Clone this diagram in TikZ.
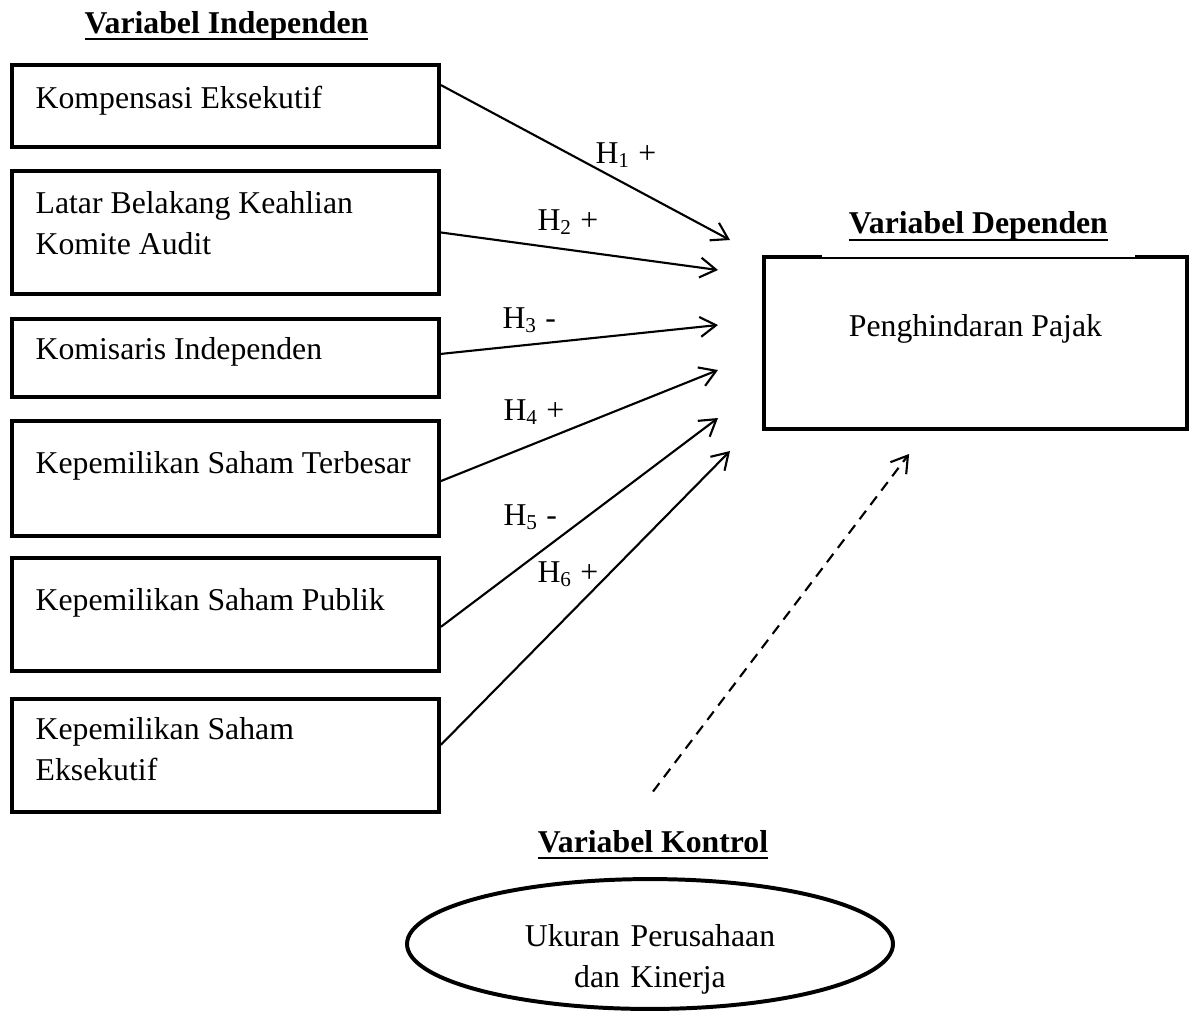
\documentclass[tikz,border=0pt]{standalone}
\usepackage{fontspec}
\setmainfont{Liberation Serif}
\usepackage{tikz}
\usetikzlibrary{shapes.geometric, arrows.meta, calc, positioning}
\tikzstyle{box} = [rectangle, line width=1.5pt, draw=black, anchor=north west, text width=143.5pt, inner xsep=8.95pt, inner ysep=0pt, align=flush left]
\tikzstyle{dep} = [rectangle, line width=1.5pt, draw=black, anchor=north west, minimum width=159.9pt, inner ysep=0pt, text height=30.2pt, text depth=34.8pt, align=center]
\tikzstyle{ctrl} = [ellipse, line width=1.5pt, draw=black, minimum width=183.7pt, minimum height=49.1pt, text width=100pt, align=center, text height=11pt, text depth=8.8pt]
\tikzstyle{hyp} = [anchor=base west, inner sep=0pt]
\tikzstyle{arrow} = [line width=0.8pt, -{Straight Barb[length=6pt, width=7.5pt]}]
\tikzstyle{dasharrow} = [arrow, dash pattern=on 4pt off 2.8pt]
\newcommand{\ulhead}[1]{\setbox0=\hbox{\bfseries #1}\rlap{\vrule height -1.8pt depth 2.7pt width \wd0}\box0}

\begin{document}
\begin{tikzpicture}[x=0.378pt, y=-0.378pt, font=\fontsize{12pt}{15.3pt}\selectfont]
		\useasboundingbox (0,0) rectangle (1192,1011);
		\node (HInd) [anchor=base] at (226.5,33) {\ulhead{Variabel Independen}};
		\node (Kompensasi) [box, text height=16.6pt, text depth=14.4pt] at (10,63) {Kompensasi Eksekutif};
		\node (Komite) [box, below = 7.56pt of Kompensasi.south west, anchor=north west, text height=16.25pt, text depth=30.25pt] {Latar Belakang Keahlian\\Komite Audit};
		\node (Komisaris) [box, below = 7.9pt of Komite.south west, anchor=north west, text height=15.5pt, text depth=14pt] {Komisaris Independen};
		\node (Terbesar) [box, below = 7.56pt of Komisaris.south west, anchor=north west, text height=20pt, text depth=23.5pt] {Kepemilikan Saham Terbesar};
		\node (Publik) [box, below = 6.8pt of Terbesar.south west, anchor=north west, text height=20pt, text depth=22.7pt] {Kepemilikan Saham Publik};
		\node (Eksekutif) [box, below = 9.1pt of Publik.south west, anchor=north west, text height=15.5pt, text depth=27.2pt] {Kepemilikan Saham\\Eksekutif};
		\node (Pajak) [dep] at (762,255) {Penghindaran Pajak};
		\node (HDep) [anchor=south, fill=white, minimum width=118.3pt, inner ysep=6pt] at ([xshift=1.1pt, yshift=-0.9pt]Pajak.north) {\ulhead{Variabel Dependen}};
		\node (HKon) [anchor=base] at (653,852) {\ulhead{Variabel Kontrol}};
		\node (Ukuran) [ctrl] at (650,944) {Ukuran Perusahaan\\dan Kinerja};
		\coordinate (T1) at (730,240);
		\coordinate (T2) at (718,270);
		\coordinate (T3) at (718,325);
		\coordinate (T4) at (718,370);
		\coordinate (T5) at (718,418);
		\coordinate (T6) at (730,451);
		\draw [arrow] ([yshift=7.9pt]Kompensasi.east) -- (T1);
		\draw [arrow] (Komite.east) -- (T2);
		\draw [arrow] ([yshift=1.5pt]Komisaris.east) -- (T3);
		\draw [arrow] ([yshift=-1pt]Terbesar.east) -- (T4);
		\draw [arrow] ([yshift=-4.7pt]Publik.east) -- (T5);
		\draw [arrow] ([yshift=4pt]Eksekutif.east) -- (T6);
		\draw [dasharrow] ([yshift=11pt]HKon.north) -- ([xshift=-25.1pt, yshift=-8.7pt]Pajak.south);
		\node (H1) [hyp] at (595,163) {H\textsubscript{1} +};
		\node (H2) [hyp] at (537,230) {H\textsubscript{2} +};
		\node (H3) [hyp] at (502,328) {H\textsubscript{3} -};
		\node (H4) [hyp] at (503,420) {H\textsubscript{4} +};
		\node (H5) [hyp] at (503,525) {H\textsubscript{5} -};
		\node (H6) [hyp] at (537,582) {H\textsubscript{6} +};
		\end{tikzpicture}
\end{document}
